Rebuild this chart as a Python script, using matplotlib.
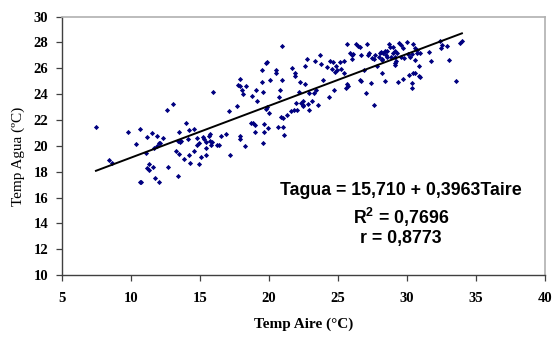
import numpy as np
import matplotlib.pyplot as plt

# air temperature (x) and water temperature (y)
temp_aire = [
    7.46, 8.41, 8.65, 9.81, 10.39, 10.63, 10.65, 10.75, 11.08, 11.18, 11.28, 11.18,
    11.33, 11.52, 11.62, 11.76, 12.0, 11.9, 12.0, 12.1, 11.86, 11.66, 12.34, 12.58,
    13.04, 12.68, 13.4, 13.28, 13.5, 13.38, 13.55, 13.65, 13.45, 13.99, 14.1, 14.23,
    14.54, 13.86, 14.2, 14.3, 14.6, 14.75, 14.9, 14.8, 14.95, 15.05, 15.3, 15.2,
    15.4, 15.4, 15.4, 15.63, 15.73, 15.73, 15.83, 15.9, 15.97, 16.2, 16.35, 16.55,
    16.9, 17.1, 17.2,
    17.7, 17.78, 17.93, 17.93, 18.08, 18.14, 18.33, 17.93, 17.93, 18.28, 18.67, 18.86,
    18.77, 19.06, 19.15, 18.96, 19.0, 19.5, 19.55, 19.5, 19.63, 19.63, 19.55, 19.9,
    19.78, 19.86, 20.0, 19.86, 19.8, 20.07, 20.51, 20.5, 20.66, 20.7, 20.82, 20.9,
    21.0, 21.05, 21.08, 20.95, 20.97, 21.33, 21.57, 21.66, 21.78, 21.88, 21.92, 21.96,
    22.0, 22.14, 22.26, 22.33, 22.43, 22.5, 22.5, 22.6, 22.6, 22.74, 22.8, 22.93,
    22.93, 23.1, 23.28, 23.36, 23.4, 23.55, 23.7, 23.75, 23.95, 24.2, 24.33, 24.4,
    24.55, 24.62, 24.7, 24.85, 24.8, 24.95, 25.14, 25.24, 25.4, 25.4, 25.56, 25.66,
    25.7, 25.66, 25.9, 25.99, 26.1, 26.05, 26.34, 26.43, 26.58, 26.67, 26.6, 26.7,
    26.86, 27.0, 27.1, 27.15, 27.25, 27.4, 27.43, 27.58, 27.63, 27.7, 27.8, 27.95,
    28.16, 28.2, 28.4, 28.45,
    28.04, 28.14, 28.28, 28.38, 28.52, 28.18, 28.57,
    28.72, 28.77, 29.0, 28.82, 28.96, 29.1, 29.25, 29.15, 29.2, 29.1, 29.15, 29.4,
    29.54, 29.58, 29.73, 29.78, 29.97, 30.07, 30.22, 30.36, 30.46, 30.55, 30.7, 30.75,
    30.94, 31.57, 30.55, 30.84, 31.76, 32.39, 32.49, 32.53, 32.92, 33.02, 33.84, 33.98,
    29.35, 29.68, 30.12, 30.36, 30.36, 30.46, 30.6, 30.89, 30.94, 33.55,
]
temp_agua = [
    21.45, 18.9, 18.68, 21.09, 20.16, 21.3, 17.24, 17.2, 19.43, 20.7, 18.58, 18.3,
    18.1, 21.0, 18.4, 17.5, 17.2, 20.8, 20.2, 20.2, 19.95, 19.85, 20.6, 22.8,
    23.25, 18.4, 17.7, 19.6, 19.4, 20.35, 20.3, 20.4, 21.05, 21.8, 20.5, 21.2,
    21.3, 19.0, 19.3, 18.7, 19.6, 20.1, 20.2, 20.6, 18.6, 19.1, 20.55, 20.7,
    19.8, 19.3, 20.3, 20.75, 20.95, 20.35, 20.1, 20.3, 24.2, 20.1, 20.1, 20.8,
    20.95, 22.7, 19.3,
    23.05, 24.73, 25.2, 24.6, 24.3, 24.0, 24.63, 20.8, 20.55, 20.0, 21.8, 21.75,
    23.85, 24.3, 23.5, 21.6, 21.1, 24.95, 24.2, 25.85, 21.7, 21.05, 20.2, 21.35,
    22.85, 23.0, 22.55, 26.5, 26.4, 25.1, 25.9, 25.65, 21.45, 23.75, 24.3, 22.2,
    22.15, 21.45, 20.85, 27.75, 25.1, 22.35, 22.7, 26.0, 22.8, 25.6, 25.4, 23.35,
    22.8, 24.15, 24.95, 23.35, 23.15, 23.5, 23.1, 26.2, 24.75, 26.7, 23.25, 22.8,
    24.1, 23.5, 24.1, 26.55, 24.3, 23.15, 27.0, 26.35, 25.1, 26.1, 23.8, 26.55,
    25.95, 26.45, 24.35, 26.2, 25.75, 25.9, 26.45, 25.95, 26.55, 25.65, 24.5, 24.75,
    24.6, 27.85, 27.2, 27.0, 27.1, 26.7, 27.85, 27.75, 27.65, 27.0, 25.1, 25.0,
    25.85, 24.05, 27.85, 27.0, 27.15, 24.85, 26.8, 23.15, 26.7, 27.05, 26.2, 26.9,
    25.65, 26.7, 25.0, 27.05,
    27.16, 27.26, 27.2, 27.37, 27.32, 26.64, 26.9,
    27.84, 27.68, 27.68, 26.9, 27.2, 27.37, 27.2, 26.9, 26.6, 26.43, 26.23, 27.94,
    26.9, 27.8, 27.55, 26.8, 28.04, 27.1, 26.9, 27.1, 27.84, 27.6, 27.42, 27.16,
    27.16, 27.26, 26.64, 26.18, 26.54, 28.09, 27.58, 27.78, 27.73, 26.64, 27.99, 28.14,
    24.93, 25.14, 25.45, 24.88, 24.47, 25.61, 25.61, 25.4, 25.3, 24.99,
]

eq_lines = ["Tagua = 15,710 + 0,3963Taire", "R$^2$ = 0,7696", "r = 0,8773"]

x = np.array(temp_aire)
y = np.array(temp_agua)

fig = plt.figure(figsize=(5.52, 3.38), dpi=100)
ax = fig.add_axes([0.1123, 0.186, 0.875, 0.765])

ax.scatter(x, y, marker="D", s=7, color="#000080", linewidths=0, zorder=3)

# linear trendline over the data range
slope, intercept = np.polyfit(x, y, 1)
xs = np.array([x.min(), x.max()])
ax.plot(xs, intercept + slope * xs, color="black", lw=1.4, zorder=4)

ax.set_xlim(5, 40)
ax.set_ylim(10, 30)
ax.set_xticks(range(5, 41, 5))
ax.set_yticks(range(10, 31, 2))

serif = "Liberation Serif"
for lab in ax.get_xticklabels() + ax.get_yticklabels():
    lab.set_fontfamily(serif)
    lab.set_fontweight("bold")
    lab.set_fontsize(10.5)
ax.tick_params(direction="out", length=4, width=0.9, color="#404040")
ax.tick_params(axis="x", pad=8)
ax.tick_params(axis="y", pad=6)

ax.set_xlabel("Temp Aire (°C)", fontfamily=serif, fontweight="bold", fontsize=11)
ax.set_ylabel("Temp Agua (ºC)", fontfamily=serif, fontsize=11)
ax.xaxis.set_label_coords(0.5, -0.165)
ax.yaxis.set_label_coords(-0.077, 0.46)

for s in ["left", "bottom"]:
    ax.spines[s].set_color("#404040")
    ax.spines[s].set_linewidth(1.0)
for s in ["top", "right"]:
    ax.spines[s].set_color("#b0b0b0")
    ax.spines[s].set_linewidth(1.2)

plt.rcParams["mathtext.fontset"] = "custom"
plt.rcParams["mathtext.bf"] = "Liberation Sans:bold"
plt.rcParams["mathtext.rm"] = "Liberation Sans:bold"
for txt, yy in zip(eq_lines, [16.57, 14.47, 12.84]):
    ax.text(29.57, yy, txt, ha="center", va="center", fontfamily="Liberation Sans",
            fontweight="bold", fontsize=12.8)

fig.savefig("out.png", dpi=100)
